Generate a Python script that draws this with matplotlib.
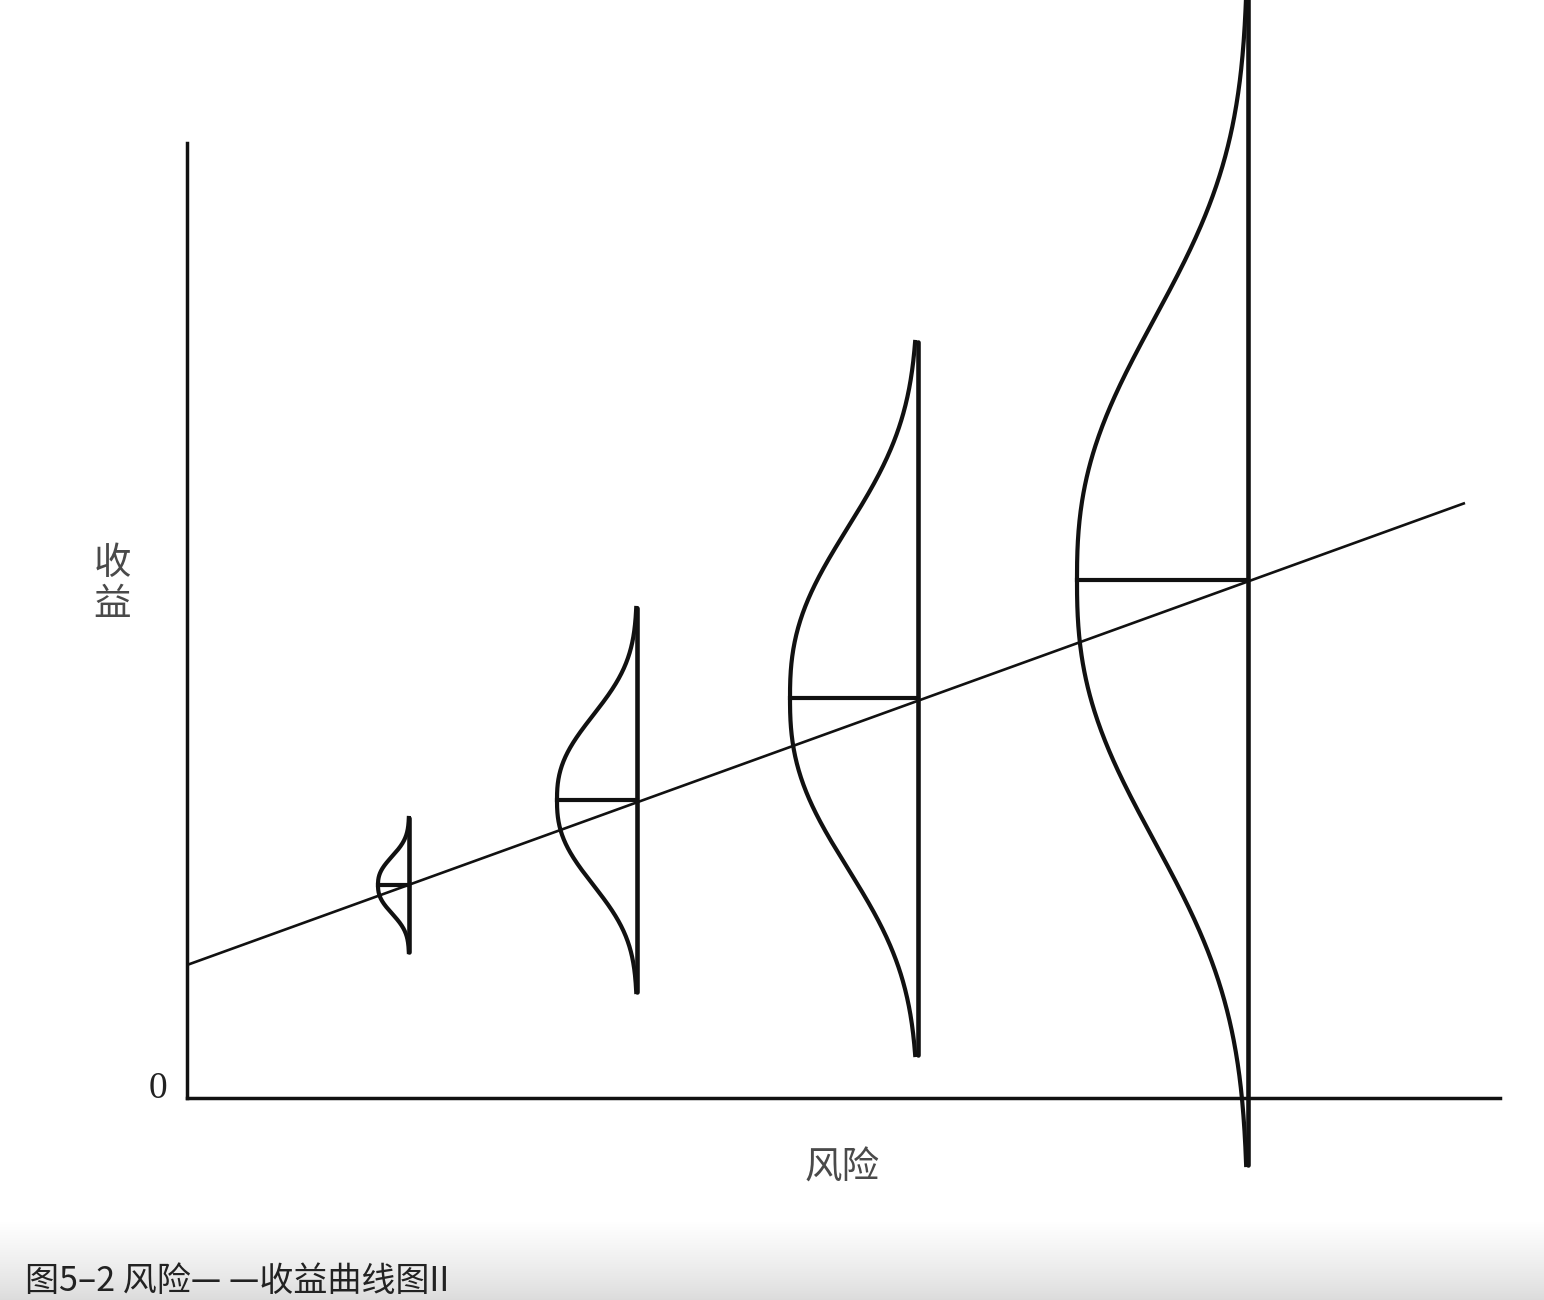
import numpy as np
import matplotlib
matplotlib.use("Agg")
import matplotlib.pyplot as plt

plt.rcParams["font.family"] = ["Noto Sans CJK SC", "DejaVu Sans"]

# values (1 unit = 100 px of the original)
risk = [2.22, 4.50, 7.31, 10.61]            # position of each distribution
mean_return = [2.13, 2.98, 4.00, 5.18]      # expected return (horizontal bar)
spread_low = [1.46, 1.06, 0.43, -0.67]      # bottom of vertical line
spread_high = [2.80, 4.90, 7.56, 11.20]     # top of vertical line
peak_width = [0.31, 0.80, 1.28, 1.71]       # how far the bell reaches left
shape_scale = [0.35, 1.04, 2.09, 3.20]      # width of the bell

trend_x = [0.0, 12.78]
trend_y = [1.33, 5.95]

x_max = 13.13
y_max = 9.55

W, H = 1544, 1300
fig = plt.figure(figsize=(W / 100, H / 100), dpi=100, facecolor="white")

# grey band behind the caption
band = fig.add_axes([0, 0, 1, 80 / H])
grad = np.linspace(0, 1, 100).reshape(-1, 1) ** 0.8
band.imshow(grad, aspect="auto", cmap="gray", vmin=-6.0, vmax=1.0,
            extent=[0, 1, 0, 1], origin="lower", interpolation="bicubic")
band.axis("off")

ax = fig.add_axes([187 / W, (H - 1098) / H, 1313 / W, 955 / H])
ax.set_xlim(0, x_max)
ax.set_ylim(0, y_max)
ax.set_facecolor("none")
for side in ["top", "right"]:
    ax.spines[side].set_visible(False)
for side in ["left", "bottom"]:
    ax.spines[side].set_linewidth(2.5)
    ax.spines[side].set_color("#111111")
ax.set_xticks([])
ax.set_yticks([])

# risk-return line
ax.plot(trend_x, trend_y, color="#111111", lw=1.9, solid_capstyle="butt", clip_on=False)

# distributions
for x0, m, lo, hi, w, a in zip(risk, mean_return, spread_low, spread_high,
                               peak_width, shape_scale):
    y = np.linspace(lo, hi, 600)
    xc = x0 - w * np.exp(-np.abs((y - m) / a) ** 2.5)
    ax.plot([x0, x0], [lo, hi], color="#111111", lw=3.3,
            solid_capstyle="round", clip_on=False, zorder=3)
    ax.plot(xc, y, color="#111111", lw=3.0, clip_on=False, zorder=3)
    ax.plot([x0 - w, x0], [m, m], color="#111111", lw=3.0, clip_on=False, zorder=3)

# labels
fig.text(112 / W, 1 - 584 / H, "收\n益", ha="center", va="center",
         fontsize=27, color="#4a4a4a", linespacing=1.05)
fig.text(842 / W, 1 - 1168 / H, "风险", ha="center", va="center",
         fontsize=27, color="#4a4a4a")
fig.text(158 / W, 1 - 1089 / H, "0", ha="center", va="center",
         fontsize=27, color="#222222", family=["Liberation Serif", "DejaVu Serif"])

fig.text(25 / W, 1 - 1281 / H, "图5–2 风险— —收益曲线图II", ha="left", va="center",
         fontsize=24.5, color="#222222",
         family=["Noto Sans CJK SC", "DejaVu Sans"])

fig.savefig("out.png", dpi=100, facecolor="white")
